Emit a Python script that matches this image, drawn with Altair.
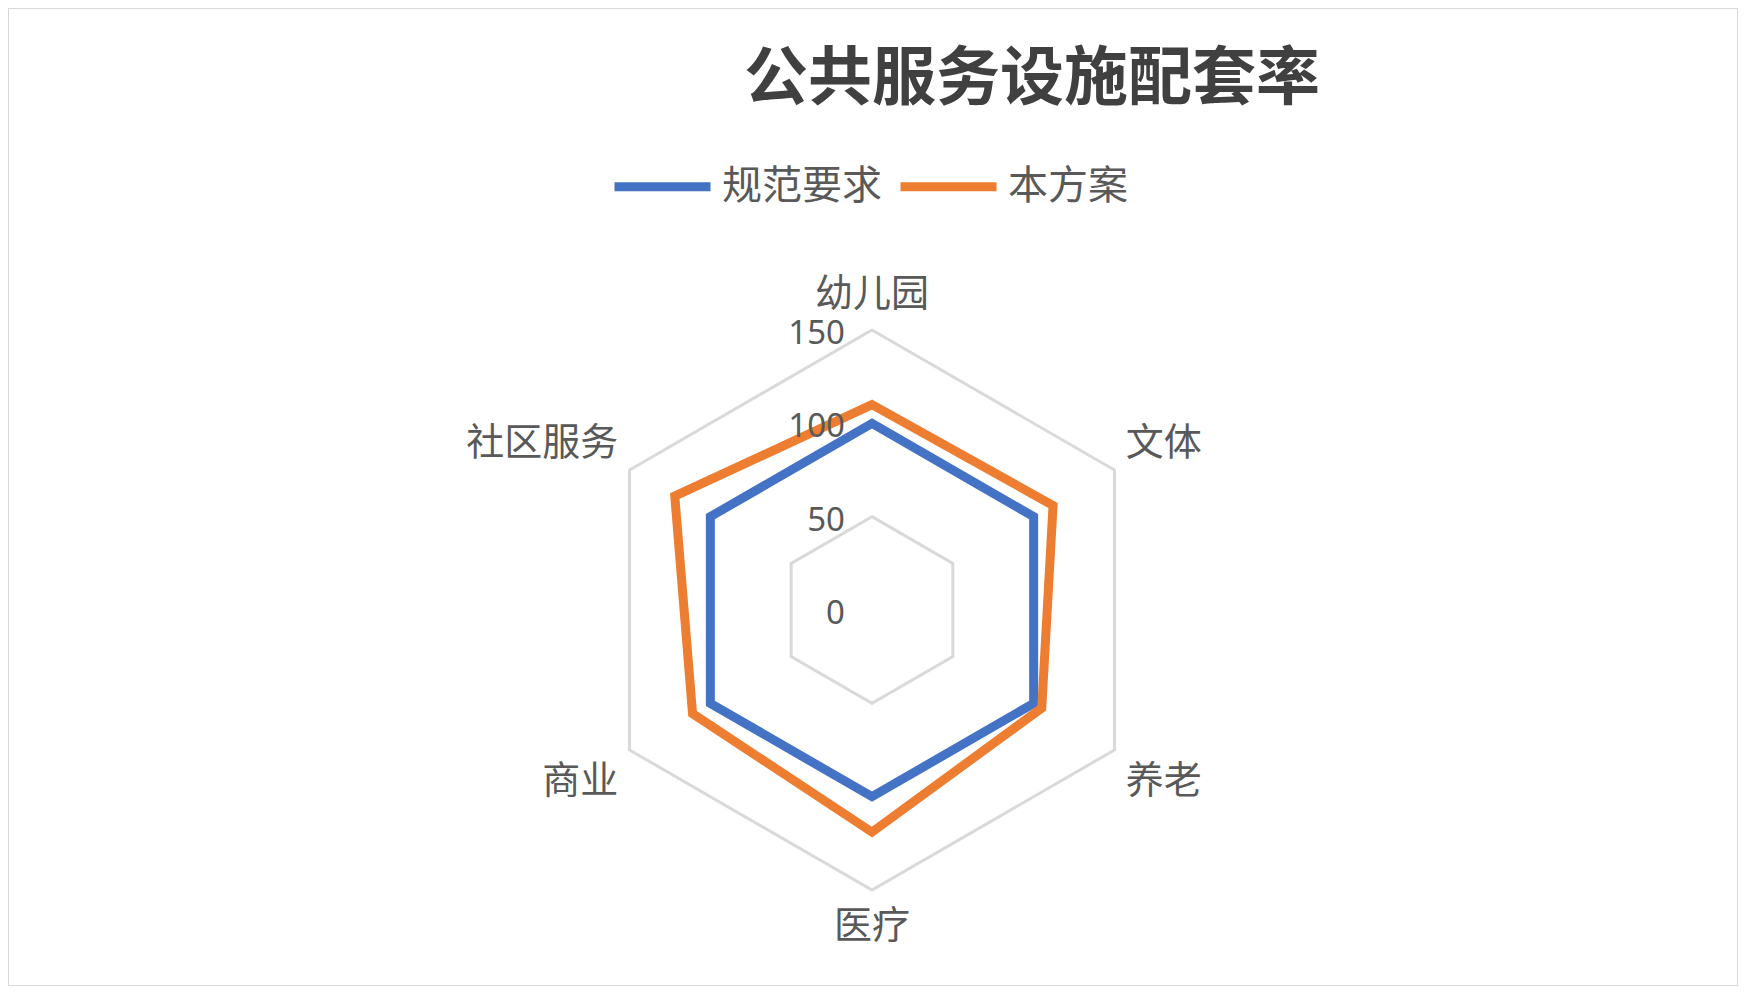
import altair as alt
import pandas as pd

# ---- data ----
categories = ["幼儿园", "文体", "养老", "医疗", "商业", "社区服务"]
series_names = ["规范要求", "本方案"]
standard_values = [100, 100, 100, 100, 100, 100]
scheme_values = [110, 112, 105, 119, 111, 122]
tick_values = [0, 50, 100, 150]
title_text = "公共服务设施配套率"

# ---- layout (pixels) ----
W, H = 1730, 978
R_MAX = 150
PX = 280 / R_MAX          # pixels per value unit
CX, CY = 864, 602         # centre of the radar in plot coordinates
xdom = [-CX / PX, (W - CX) / PX]
ydom = [(CY - H) / PX, CY / PX]
xs = alt.Scale(domain=xdom, nice=False, zero=False)
ys = alt.Scale(domain=ydom, nice=False, zero=False)

BLUE, ORANGE = "#4472C4", "#ED7D31"
GRID = "#d9d9d9"
TXT = "#595959"
CJK = "Noto Sans CJK SC"
N = len(categories)

# tables built from the arrays
rows = []
for s, vals in zip(series_names, [standard_values, scheme_values]):
    for i, c in enumerate(categories):
        rows.append({"series": s, "category": c, "idx": i, "value": vals[i]})
data_df = pd.DataFrame(rows)

grid_df = pd.DataFrame([{"ring": t, "idx": i} for t in tick_values[1:] for i in range(N)])
tick_df = pd.DataFrame({"tick": tick_values})
cat_df = pd.DataFrame({"category": categories, "idx": list(range(N))})
title_df = pd.DataFrame({"t": [title_text]})

ang = f"datum.idx * 2 * PI / {N}"

grid = alt.Chart(grid_df).transform_calculate(
    ang=ang,
    x="datum.ring * sin(datum.ang)",
    y="datum.ring * cos(datum.ang)",
).mark_line(interpolate="linear-closed", color=GRID, strokeWidth=3, strokeJoin="miter").encode(
    x=alt.X("x:Q", scale=xs, axis=None),
    y=alt.Y("y:Q", scale=ys, axis=None),
    detail="ring:N",
    order="idx:Q",
)

lines = alt.Chart(data_df).transform_calculate(
    ang=ang,
    x="datum.value * sin(datum.ang)",
    y="datum.value * cos(datum.ang)",
).mark_line(interpolate="linear-closed", strokeWidth=9, strokeJoin="miter").encode(
    x=alt.X("x:Q", scale=xs, axis=None),
    y=alt.Y("y:Q", scale=ys, axis=None),
    color=alt.Color(
        "series:N",
        scale=alt.Scale(domain=series_names, range=[BLUE, ORANGE]),
        sort=series_names,
        legend=alt.Legend(
            orient="none", legendX=602, legendY=126, direction="horizontal", title=None,
            symbolType="stroke", symbolSize=9216, symbolStrokeWidth=9,
            labelFontSize=40, labelFont=CJK, labelColor=TXT, labelOffset=7,
            columnPadding=0, labelLimit=400,
        ),
    ),
    detail="series:N",
    order="idx:Q",
)

ticks = alt.Chart(tick_df).transform_calculate(zero="0").mark_text(
    align="right", baseline="middle", dx=-27, dy=4, fontSize=33, font="Noto Sans", color=TXT
).encode(
    x=alt.X("zero:Q", scale=xs, axis=None),
    y=alt.Y("tick:Q", scale=ys, axis=None),
    text="tick:Q",
)

def cat_layer(filt, align):
    return alt.Chart(cat_df).transform_calculate(
        ang=ang,
        s="sin(datum.ang)",
        c="cos(datum.ang)",
    ).transform_calculate(
        lx=f"{R_MAX} * datum.s + (datum.s > 0.1 ? 6 : (datum.s < -0.1 ? -6 : 0))",
        ly=(f"{R_MAX} * datum.c + (datum.c > 0.9 ? 18.5 : (datum.c > 0.1 ? 14 : "
            f"(datum.c < -0.9 ? -20 : (datum.c < -0.1 ? -17 : 0))))"),
    ).transform_filter(filt).mark_text(
        align=align, baseline="middle", fontSize=38, font=CJK, color=TXT
    ).encode(
        x=alt.X("lx:Q", scale=xs, axis=None),
        y=alt.Y("ly:Q", scale=ys, axis=None),
        text="category:N",
    )

cats_c = cat_layer("abs(sin(datum.ang)) <= 0.1", "center")
cats_r = cat_layer("sin(datum.ang) > 0.1", "left")
cats_l = cat_layer("sin(datum.ang) < -0.1", "right")

title = alt.Chart(title_df).mark_text(
    align="center", baseline="middle", fontSize=64, font=CJK, fontWeight="bold", color="#404040"
).encode(x=alt.value(1024), y=alt.value(72), text="t:N")

chart = alt.layer(grid, lines, ticks, cats_c, cats_r, cats_l, title).properties(
    width=W, height=H, padding=0, background="white"
).configure_view(stroke=GRID, strokeWidth=2)

chart.save("out.html", embed_options={"renderer": "svg", "actions": False})
